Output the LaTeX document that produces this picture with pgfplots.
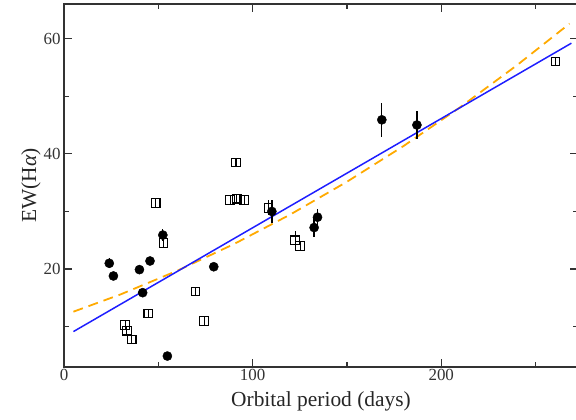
\documentclass[border=0pt]{standalone}
\usepackage{pgfplots}
\pgfplotsset{compat=1.18}
\usepackage{fontspec}
\setmainfont{Liberation Serif}
\definecolor{fitblue}{RGB}{30,30,255}
\definecolor{fitorange}{RGB}{255,170,0}
\definecolor{axgray}{RGB}{50,50,50}
\begin{document}
\begin{tikzpicture}
\begin{axis}[
  at={(0bp,0bp)}, anchor=south west,
  scale only axis, width=514bp, height=363bp,
  xmin=0, xmax=272.5, ymin=3, ymax=66,
  xtick={0,100,200}, minor xtick={50,150,250},
  ytick={20,40,60}, minor ytick={10,30,50},
  tick align=inside,
  major tick length=8bp, minor tick length=5bp,
  axis line style={line width=1.6pt, axgray},
  every tick/.style={line width=1.2pt, axgray},
  /pgf/number format/assume math mode=true,
  tick label style={font=\fontsize{17}{20}\selectfont, text=black!80},
  xticklabel style={yshift=1bp},
  xlabel={Orbital period (days)},
  ylabel={EW(H\textit{α})},
  label style={font=\fontsize{21.5}{25}\selectfont, text=black!85},
  xlabel style={yshift=-4bp},
  ylabel style={yshift=-4bp},
  clip=false,
]
% fits
\addplot[fitorange, line width=1.8pt, dash pattern=on 10bp off 6bp] coordinates {
 (5,12.60) (30,15.60) (60,19.70) (90,24.32) (120,29.47) (150,35.15) (180,41.35) (210,48.08) (240,55.34) (268,62.59)};
\addplot[fitblue, line width=1.5pt] coordinates {(5,9.15) (269,59.2)};
% squares
\addplot[only marks, mark=square, mark size=4.3pt, mark options={black, line width=1.1pt, fill=white},
  error bars/.cd, y dir=both, y explicit, error mark=none,
  error bar style={black, line width=1.1pt}]
 table[x=x, y=y, y error=e] {
x y e
32.4 10.3 0.8
33.3 9.3 0.8
35.9 7.8 0.8
44.7 12.3 0.8
48.6 31.5 0.8
52.7 24.5 0.9
69.7 16.1 0.8
74.3 11.0 0.8
88.1 32.0 0.8
91.6 32.2 0.9
91.2 38.5 0.8
95.6 32.0 0.8
108.4 30.6 1.3
122.5 25.0 1.6
125.2 24.0 0.8
260.6 56.0 0.8
};
% circles
\addplot[only marks, mark=*, mark size=4.6pt, mark options={black},
  error bars/.cd, y dir=both, y explicit, error mark=none,
  error bar style={black, line width=1.3pt}]
 table[x=x, y=y, y error=e] {
x y e
24.0 21.0 0.9
26.2 18.8 0.5
40.0 19.9 0.5
41.7 15.9 0.5
45.6 21.4 0.5
52.4 25.9 1.1
54.8 4.9 0.5
79.4 20.4 0.5
110.2 30.0 2.0
132.6 27.2 1.7
134.4 29.0 1.5
168.5 45.9 2.9
187.1 45.0 2.5
};
\end{axis}
\pgfresetboundingbox
\useasboundingbox (-64bp,-53bp) rectangle (512bp,367bp);
\end{tikzpicture}
\end{document}
